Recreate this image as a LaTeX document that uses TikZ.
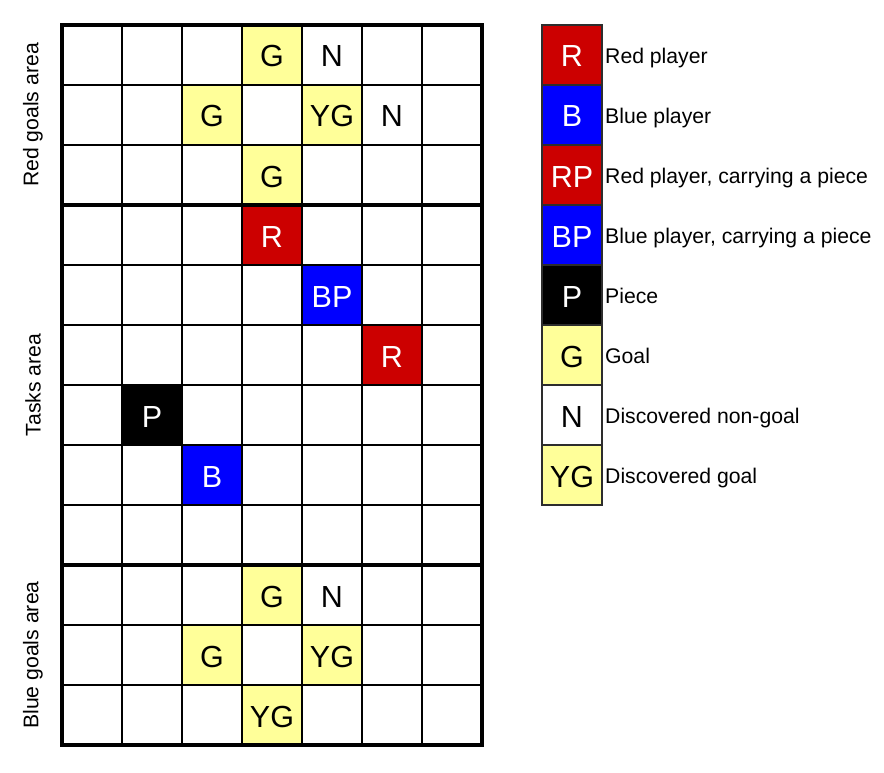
\documentclass[tikz,border=0pt]{standalone}
\usepackage{fontspec}
\setmainfont{Liberation Sans}
\usetikzlibrary{positioning}
\definecolor{boardRed}{RGB}{204,0,0}
\definecolor{boardBlue}{RGB}{0,0,255}
\definecolor{boardGoal}{RGB}{255,255,153}
\definecolor{boardLine}{RGB}{45,45,45}
\tikzset{
  cell/.style={
    minimum width=60pt,
    minimum height=60pt,
    inner sep=0pt,
    outer sep=0pt,
    text height=24pt,
    text depth=0pt,
    font=\fontsize{30.5}{36}\selectfont
  },
  redcell/.style={cell, fill=boardRed, text=white},
  bluecell/.style={cell, fill=boardBlue, text=white},
  piececell/.style={cell, fill=black, text=white},
  goalcell/.style={cell, fill=boardGoal},
  nongoalcell/.style={cell, fill=white},
  keycell/.style={draw=boardLine, line width=2pt},
  keylabel/.style={
    anchor=west,
    inner sep=0pt,
    text height=17pt,
    text depth=0pt,
    font=\fontsize{21.2}{25}\selectfont
  },
  arealabel/.style={
    rotate=90,
    inner sep=0pt,
    font=\fontsize{21.2}{25}\selectfont
  },
  gridline/.style={line width=2pt, draw=black},
  borderline/.style={line width=4pt, draw=black}
}

\begin{document}
\begin{tikzpicture}[x=1pt, y=-1pt]
  \useasboundingbox (0,0) rectangle (884,773);

  % red goals area
  \node[goalcell] (r0c3) at (272,55) {G};
  \node[nongoalcell] (r0c4) at (332,55) {N};
  \node[goalcell] (r1c2) at (212,115) {G};
  \node[goalcell] (r1c4) at (332,115) {YG};
  \node[nongoalcell] (r1c5) at (392,115) {N};
  \node[goalcell] (r2c3) at (272,175) {G};

  % tasks area
  \node[redcell] (r3c3) at (272,235) {R};
  \node[bluecell] (r4c4) at (332,295) {BP};
  \node[redcell] (r5c5) at (392,355) {R};
  \node[piececell] (r6c1) at (152,415) {P};
  \node[bluecell] (r7c2) at (212,475) {B};

  % blue goals area
  \node[goalcell] (r9c3) at (272,595) {G};
  \node[nongoalcell] (r9c4) at (332,595) {N};
  \node[goalcell] (r10c2) at (212,655) {G};
  \node[goalcell] (r10c4) at (332,655) {YG};
  \node[goalcell] (r11c3) at (272,715) {YG};

  % board lines
  \foreach \x in {62,122,...,482} {
    \draw[gridline] (\x,25) -- (\x,745);
  }
  \foreach \y in {25,85,...,745} {
    \draw[gridline] (62,\y) -- (482,\y);
  }
  \draw[borderline] (62,205) -- (482,205);
  \draw[borderline] (62,565) -- (482,565);
  \draw[borderline] (62,25) rectangle (482,745);

  % area names
  \node[arealabel] (redarea) at (33,115) {Red goals area};
  \node[arealabel] (taskarea) at (33,385) {Tasks area};
  \node[arealabel] (bluearea) at (33,655) {Blue goals area};

  % legend
  \node[redcell, keycell] (keyR) at (572,55) {R};
  \node[bluecell, keycell, below=0pt of keyR] (keyB) {B};
  \node[redcell, keycell, below=0pt of keyB] (keyRP) {RP};
  \node[bluecell, keycell, below=0pt of keyRP] (keyBP) {BP};
  \node[piececell, keycell, below=0pt of keyBP] (keyP) {P};
  \node[goalcell, keycell, below=0pt of keyP] (keyG) {G};
  \node[nongoalcell, keycell, below=0pt of keyG] (keyN) {N};
  \node[goalcell, keycell, below=0pt of keyN] (keyYG) {YG};

  \node[keylabel, right=3pt of keyR] (txtR) {Red player};
  \node[keylabel, right=3pt of keyB] (txtB) {Blue player};
  \node[keylabel, right=3pt of keyRP] (txtRP) {Red player, carrying a piece};
  \node[keylabel, right=3pt of keyBP] (txtBP) {Blue player, carrying a piece};
  \node[keylabel, right=3pt of keyP] (txtP) {Piece};
  \node[keylabel, right=3pt of keyG] (txtG) {Goal};
  \node[keylabel, right=3pt of keyN] (txtN) {Discovered non-goal};
  \node[keylabel, right=3pt of keyYG] (txtYG) {Discovered goal};
\end{tikzpicture}
\end{document}
